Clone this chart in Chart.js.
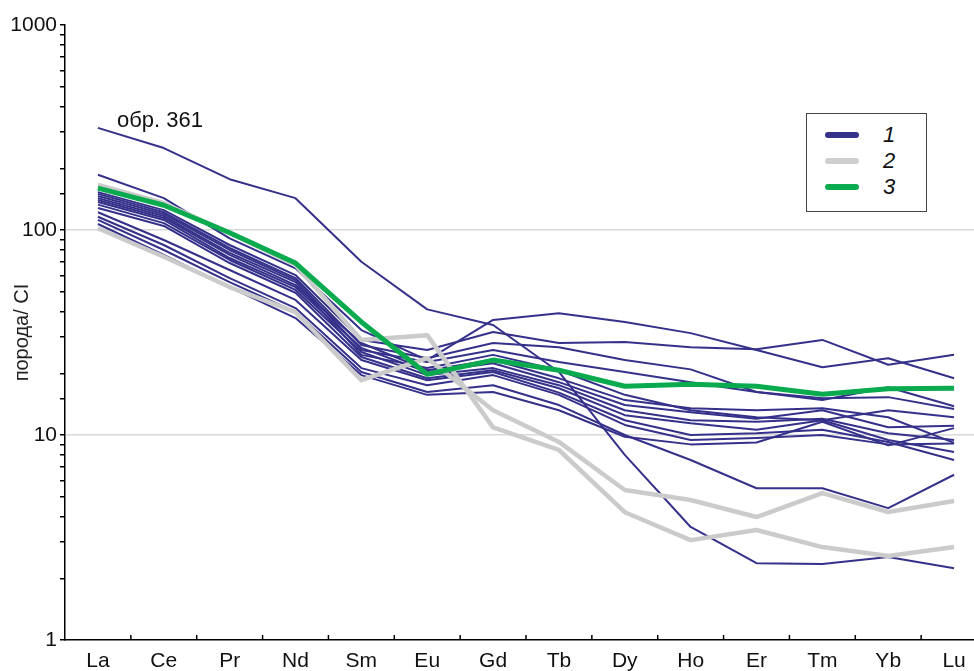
<!DOCTYPE html>
<html>
<head>
<meta charset="utf-8">
<title>REE spider diagram</title>
<script src="https://cdn.jsdelivr.net/npm/chart.js@4.4.1/dist/chart.umd.min.js"></script>
<style>
    body { margin: 0; background: #fff; overflow: hidden; }
    #wrap { position: relative; width: 974px; height: 671px; overflow: hidden; font-family: 'Liberation Sans', Arial, sans-serif; }
    #grafico { position: absolute; left: 0; top: 0; }
    #note { position: absolute; left: 117px; top: 107px; font-size: 22px; color: #111; }
    #legend { position: absolute; left: 806px; top: 113px; width: 119px; height: 97px; border: 1px solid #444; background: #fff; }
    .row { position: absolute; left: 18px; height: 26px; width: 100px; }
    .row span.ln { position: absolute; left: 0; top: 10px; width: 34px; height: 6px; border-radius: 3px; }
    .row span.tx { position: absolute; left: 58px; top: 0px; font-size: 22px; font-style: italic; color: #111; }
</style>
</head>
<body>
<div id="wrap">
    <canvas id="grafico" width="990" height="671"></canvas>
    <div id="note">обр. 361</div>
    <div id="legend">
        <div class="row" style="top:8px"><span class="ln" style="background:#35318a"></span><span class="tx">1</span></div>
        <div class="row" style="top:34px"><span class="ln" style="background:#cfcfcf"></span><span class="tx">2</span></div>
        <div class="row" style="top:60px"><span class="ln" style="background:#0aab4e"></span><span class="tx">3</span></div>
    </div>
</div>
<script>
// Элементы (REE)
const categories = ['La', 'Ce', 'Pr', 'Nd', 'Sm', 'Eu', 'Gd', 'Tb', 'Dy', 'Ho', 'Er', 'Tm', 'Yb', 'Lu'];

// Группа 1 (синие линии)
const s361 = [315, 251, 177, 143, 70, 41, 34.4, 20.3, 8.0, 3.56, 2.37, 2.35, 2.54, 2.24];
const s02 = [186, 143, 91, 65, 32.5, 23.2, 36.4, 39.3, 35.6, 31.4, 26, 21.4, 23.7, 18.9];
const s03 = [153, 125, 84.5, 60.3, 29.1, 26, 31.8, 28.1, 28.4, 26.8, 26.2, 29.1, 22, 24.6];
const s04 = [150, 122, 81.7, 58.3, 27.5, 23.7, 28.1, 26.8, 23.2, 20.9, 16.2, 14.8, 17.1, 13.8];
const s05 = [146.5, 119.5, 79.9, 57, 26, 22.7, 26, 22.7, 20.3, 18.1, 16.2, 15.1, 15.3, 13.4];
const s06 = [143, 117, 77.3, 55.7, 24.6, 21.2, 24.6, 20.7, 15.7, 13.2, 12.2, 11.8, 13.2, 12.2];
const s07 = [140, 114.5, 75.6, 53.8, 28.1, 20.7, 23.2, 18.9, 14.8, 13.5, 13.2, 13.5, 12.2, 9.15];
const s08 = [137, 112, 73, 52.6, 26.6, 20.3, 22.4, 18.1, 14, 12.9, 12, 13.2, 10.9, 11.1];
const s09 = [133, 108, 71.4, 51, 25.4, 19.6, 21.2, 17.5, 13.2, 11.8, 11.6, 12, 10.2, 9.45];
const s10 = [128, 104.6, 69, 49.4, 24, 18.9, 20.7, 16.9, 12.5, 11.4, 10.6, 11.8, 9.45, 8.27];
const s11 = [122, 89.4, 63.8, 45.6, 23.2, 18.5, 20.3, 16.1, 11.8, 10, 10.2, 10.6, 9.25, 7.55];
const s12 = [116, 84.5, 58.3, 41.6, 21.2, 17.5, 19.6, 15.7, 11.2, 9.45, 9.66, 10, 9.0, 9.1];
const s13 = [112, 79.9, 55.7, 39.8, 20.3, 16.2, 17.5, 14, 10, 7.55, 5.5, 5.5, 4.4, 6.4];
const s14 = [107, 75.6, 52.6, 37.2, 19.6, 15.7, 16.2, 13.2, 9.8, 9.0, 9.2, 11.6, 8.9, 10.8];
const group1 = [s361, s02, s03, s04, s05, s06, s07, s08, s09, s10, s11, s12, s13, s14];

// Группа 2 (серые линии)
const gray1 = [166, 135, 97, 67.5, 29.1, 30.7, 10.9, 8.45, 4.2, 3.07, 3.44, 2.84, 2.57, 2.84];
const gray2 = [102, 74, 52.7, 39.8, 18.5, 23.7, 13.2, 9.25, 5.39, 4.82, 3.98, 5.21, 4.21, 4.76];

// Группа 3 (зелёная линия)
const green1 = [160, 132, 97, 69, 35.6, 19.8, 23.2, 20.7, 17.3, 17.7, 17.3, 15.8, 16.8, 16.9];

const yTickLabels = [1, 10, 100, 1000];

const datasets = [];
datasets.push({ label: '3', data: green1, borderColor: '#0aab4e', borderWidth: 5, order: 0 });
datasets.push({ label: '2', data: gray1, borderColor: '#cbcbcb', borderWidth: 4.5, order: 1 });
datasets.push({ label: '2', data: gray2, borderColor: '#cbcbcb', borderWidth: 4.5, order: 1 });
group1.forEach(function (serie) {
    datasets.push({ label: '1', data: serie, borderColor: '#35318a', borderWidth: 2, order: 2 });
});

// Засечки на оси X (внутрь, между элементами)
const xTicksInside = {
    id: 'xTicksInside',
    afterDraw(chart) {
        const x = chart.scales.x;
        const ctx = chart.ctx;
        const bottom = chart.chartArea.bottom;
        ctx.save();
        ctx.strokeStyle = '#000';
        ctx.lineWidth = 1.5;
        for (let i = 1; i < categories.length; i++) {
            const px = (x.getPixelForValue(i - 1) + x.getPixelForValue(i)) / 2;
            ctx.beginPath();
            ctx.moveTo(px, bottom);
            ctx.lineTo(px, bottom - 5);
            ctx.stroke();
        }
        ctx.restore();
    }
};

Chart.defaults.font.family = "'Liberation Sans', Arial, sans-serif";
Chart.defaults.color = '#111';

new Chart(document.getElementById('grafico').getContext('2d'), {
    type: 'line',
    data: { labels: categories, datasets: datasets },
    options: {
        responsive: false,
        animation: false,
        layout: { padding: { top: 25, right: 3, left: 0, bottom: 0 } },
        elements: {
            point: { radius: 0 },
            line: { tension: 0, borderJoinStyle: 'round', borderCapStyle: 'butt' }
        },
        plugins: {
            legend: { display: false },
            tooltip: { enabled: false }
        },
        scales: {
            x: {
                offset: true,
                afterFit: function (scale) { scale.height = 31; },
                grid: { display: false },
                border: { color: '#000', width: 1.5 },
                ticks: { padding: 1, font: { size: 21 }, color: '#111', autoSkip: false, maxRotation: 0 }
            },
            y: {
                type: 'logarithmic',
                min: 1,
                max: 1000,
                afterFit: function (scale) { scale.width = 65; },
                border: { color: '#000', width: 1.5 },
                grid: {
                    color: function (ctx) {
                        return ctx.tick && (ctx.tick.value === 10 || ctx.tick.value === 100) ? '#d8d8d8' : 'rgba(0,0,0,0)';
                    },
                    tickColor: '#000',
                    tickLength: 5,
                    lineWidth: 1.5
                },
                ticks: {
                    autoSkip: false,
                    padding: 3,
                    font: { size: 21 },
                    color: '#111',
                    callback: function (value) {
                        return yTickLabels.includes(value) ? String(value) : '';
                    }
                },
                title: {
                    display: true,
                    text: 'порода/ CI',
                    font: { size: 20 },
                    color: '#222',
                    padding: { top: 10, bottom: 0 }
                }
            }
        }
    },
    plugins: [xTicksInside]
});
</script>
</body>
</html>
